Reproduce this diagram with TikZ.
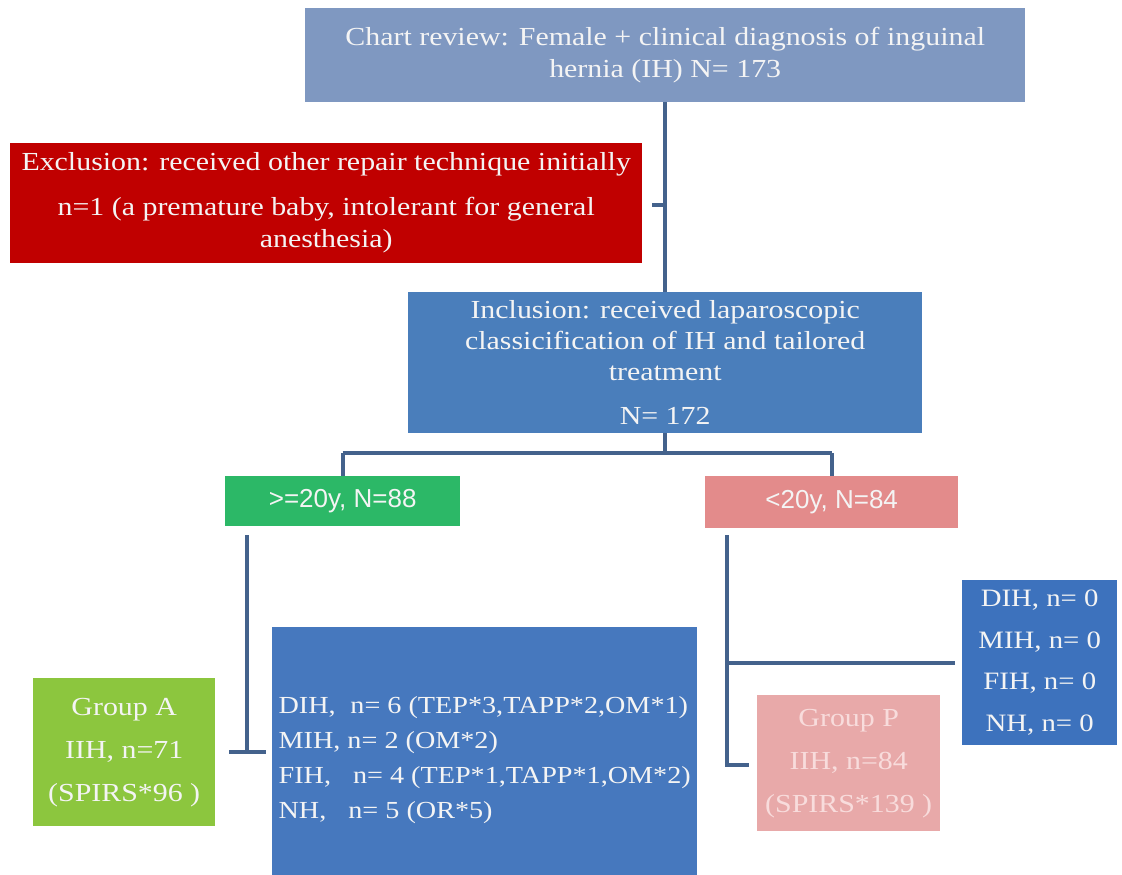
\documentclass[tikz,border=0pt]{standalone}
\usepackage{fontspec}
\setmainfont{Liberation Serif}[FakeStretch=1.15]
\setsansfont{Liberation Sans}
\definecolor{topblue}{HTML}{7F98C1}
\definecolor{exred}{HTML}{C00000}
\definecolor{incblue}{HTML}{4A7EBB}
\definecolor{oldgreen}{HTML}{2CB867}
\definecolor{youngpink}{HTML}{E38B8B}
\definecolor{grpagreen}{HTML}{8CC63E}
\definecolor{bigblue}{HTML}{4678BE}
\definecolor{rblue}{HTML}{3D72BD}
\definecolor{grpppink}{HTML}{E8A9A9}
\definecolor{linecol}{HTML}{44628C}
\definecolor{txt}{HTML}{F4F4F4}
\definecolor{ptxt}{HTML}{F8DCDC}
\begin{document}
\begin{tikzpicture}[x=1pt,y=-1pt,
  box/.style={inner sep=0pt, text=txt, align=center, anchor=north west},
  conn/.style={draw=linecol, line width=4pt}]
\useasboundingbox (0,0) rectangle (1122,875);
\fill[white] (0,0) rectangle (1122,875);

\node[box, fill=topblue, minimum width=720pt, minimum height=94pt,
      font=\fontsize{26}{32}\selectfont] (top) at (305,8)
  {Chart review: Female + clinical diagnosis of inguinal\\hernia (IH) N= 173};

\node[box, fill=exred, minimum width=632pt, minimum height=120pt,
      font=\fontsize{26}{32}\selectfont] (excl) at (10,143)
  {Exclusion: received other repair technique initially\\[13pt]
   n=1 (a premature baby, intolerant for general\\anesthesia)};

\node[box, fill=incblue, minimum width=514pt, minimum height=141pt,
      font=\fontsize{26}{31}\selectfont] (inc) at (408,292)
  {Inclusion: received laparoscopic\\classicification of IH and tailored\\treatment\\[13pt] N= 172};

\node[box, fill=oldgreen, minimum width=235pt, minimum height=50pt,
      font=\sffamily\fontsize{26}{30}\selectfont] (old) at (225,476)
  {>=20y, N=88};

\node[box, fill=youngpink, minimum width=253pt, minimum height=52pt,
      font=\sffamily\fontsize{26}{30}\selectfont] (young) at (705,476)
  {<20y, N=84};

\node[box, fill=grpagreen, minimum width=182pt, minimum height=148pt,
      font=\fontsize{26}{43}\selectfont] (grpa) at (33,678)
  {Group A\\IIH, n=71\\(SPIRS*96 )};

\node[box, fill=bigblue, minimum width=425pt, minimum height=250pt, align=left,
      font=\fontsize{24.5}{35}\selectfont] (big) at (272,627)
  {\rule{0pt}{32pt}DIH,\hspace{0.6em}n= 6 (TEP*3,TAPP*2,OM*1)\\
   MIH, n= 2 (OM*2)\\
   FIH,\hspace{0.9em}n= 4 (TEP*1,TAPP*1,OM*2)\\
   NH,\hspace{0.9em}n= 5 (OR*5)};

\node[box, fill=rblue, minimum width=155pt, minimum height=165pt,
      font=\fontsize{25}{41.5}\selectfont] (rbox) at (962,580)
  {DIH, n= 0\\MIH, n= 0\\FIH, n= 0\\NH, n= 0};

\node[box, fill=grpppink, minimum width=183pt, minimum height=136pt, text=ptxt,
      font=\fontsize{26}{43}\selectfont] (grpp) at (757,695)
  {Group P\\IIH, n=84\\(SPIRS*139 )};

% connectors
\coordinate (exstub) at (652,205);
\draw[conn] (top.south) -- (top.south |- inc.north);
\draw[conn] (top.south |- exstub) -- (exstub);

\coordinate (split) at (665,453);
\draw[conn] (top.south |- inc.south) -- (top.south |- split);
\draw[conn] (old.north |- split) -- (young.north |- split);
\draw[conn] (old.north |- split) -- (old.north);
\draw[conn] (young.north |- split) -- (young.north);

\coordinate (lt) at (247,535);
\coordinate (lb) at (247,752);
\draw[conn] (lt) -- (lb);
\draw[conn] (lb -| 229,0) -- (lb -| 266,0);

\coordinate (rt) at (727,535);
\coordinate (rb) at (727,765);
\coordinate (rbend) at (749,765);
\draw[conn] (rt) -- (rb) -- (rbend);
\coordinate (rmid) at (727,663);
\draw[conn] (rmid) -- (rmid -| 955,0);
\end{tikzpicture}
\end{document}
